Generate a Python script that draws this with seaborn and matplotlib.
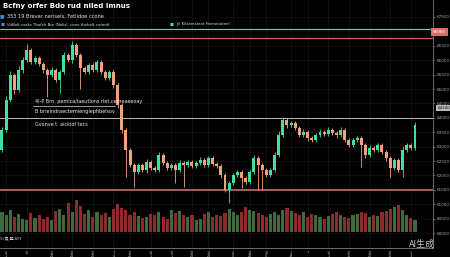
import numpy as np
import pandas as pd
import matplotlib
matplotlib.use("Agg")
import matplotlib.pyplot as plt
from matplotlib.lines import Line2D
import seaborn as sns

# ---------------- data ----------------
first_open = 62880
closes = [63580, 64620, 65490, 64960, 65660, 66010, 66350, 65940, 66080, 65870,
          65660, 65490, 65660, 65310, 65590, 66180, 66010, 66530, 66180, 65730,
          65590, 65830, 65660, 65940, 65590, 65380, 65590, 65140, 64440, 63580,
          62880, 62360, 62120, 62360, 62190, 62470, 62260, 62190, 62710, 62430,
          62260, 62360, 62190, 62430, 62360, 62470, 62330, 62430, 62530, 62360,
          62600, 62400, 62330, 62010, 61490, 61740, 62010, 62120, 61910, 61770,
          62120, 62600, 62360, 62190, 62010, 62190, 62710, 63400, 63920, 63750,
          63820, 63650, 63400, 63510, 63300, 63230, 63400, 63510, 63440, 63580,
          63470, 63400, 63580, 63230, 63060, 63230, 63300, 63060, 62710, 62950,
          62880, 63060, 62810, 62600, 62260, 62530, 62190, 62880, 63060, 62950,
          63750]
upper_wick = [100, 140, 120, 80, 150, 100, 200, 90, 60, 80,
              70, 60, 90, 60, 80, 120, 70, 150, 60, 80,
              60, 90, 70, 80, 60, 70, 80, 60, 70, 60,
              60, 70, 60, 80, 60, 90, 60, 70, 120, 60,
              60, 80, 60, 90, 70, 60, 70, 80, 100, 60,
              90, 60, 70, 60, 60, 80, 90, 70, 60, 70,
              80, 100, 60, 70, 60, 80, 120, 150, 100, 70,
              80, 60, 70, 90, 60, 60, 80, 90, 60, 100,
              70, 60, 90, 60, 60, 80, 70, 60, 60, 90,
              60, 80, 60, 60, 60, 90, 60, 140, 80, 70,
              100]
lower_wick = [60, 80, 60, 150, 70, 90, 60, 80, 60, 70,
              100, 760, 60, 80, 450, 70, 60, 90, 60, 730,
              60, 70, 80, 60, 70, 80, 60, 90, 100, 120,
              940, 80, 520, 70, 60, 90, 70, 60, 80, 70,
              60, 80, 450, 60, 760, 70, 80, 60, 70, 60,
              80, 60, 70, 90, 80, 450, 70, 60, 350, 60,
              70, 60, 870, 700, 80, 60, 70, 80, 60, 90,
              60, 80, 70, 60, 90, 60, 70, 80, 60, 70,
              60, 90, 70, 80, 60, 70, 80, 760, 90, 60,
              70, 80, 60, 90, 310, 60, 80, 250, 60, 70,
              80]
volumes = [620, 540, 700, 480, 560, 420, 380, 600, 450, 520,
           400, 470, 380, 650, 720, 540, 900, 610, 1000, 820,
           560, 700, 480, 640, 530, 590, 460, 720, 880, 760,
           690, 540, 610, 500, 430, 470, 560, 520, 610, 480,
           420, 680, 590, 650, 520, 460, 540, 380, 420, 560,
           610, 470, 530, 490, 580, 730, 640, 520, 610, 780,
           700, 650, 590, 520, 480, 560, 620, 540, 700, 760,
           660, 590, 520, 610, 480, 560, 530, 470, 420, 500,
           560, 610, 520, 460, 430, 520, 560, 620, 580, 480,
           540, 500, 610, 660, 720, 780, 840, 700, 520, 430,
           380]
date_ticks = [1, 6, 12, 17, 22, 27, 31, 36, 41, 46, 50, 56, 60, 64, 70, 74, 79, 84, 89, 94, 99]
date_labels = ["4\n1", "16\n", "10\n24", "8\n21", "10\n22", "7\n4", "10\n25", "18\n1",
               "11\n1", "13\n28", "10\n28", "4\n0", "14\n23", "16\n0", "1\n19", "7\n",
               "10\n1", "12\n15", "10\n20", "14\n15", "1\n1"]
price_ticks = [60000, 60500, 61000, 61500, 62000, 62500, 63000, 63500,
               64000, 64500, 65000, 65500, 66000, 66500, 67000, 67500]
level_green = 67080
level_red_top = 66770
level_gray = 63990
level_red_low = 61490
last_price_red = 66980
last_price_gray = 64340

# ---------------- build frame ----------------
opens = [first_open] + closes[:-1]
df = pd.DataFrame({"idx": np.arange(len(closes)), "open": opens, "close": closes,
                   "vol": volumes})
df["up"] = df["close"] >= df["open"]
df["high"] = df[["open", "close"]].max(axis=1) + np.array(upper_wick)
df["low"] = df[["open", "close"]].min(axis=1) - np.array(lower_wick)
df["dir"] = np.where(df["up"], "up", "down")

W, H = 450, 257
sns.set_theme(style="dark")
plt.rcParams["font.family"] = ["DejaVu Sans", "Noto Sans CJK SC"]

fig = plt.figure(figsize=(W / 100, H / 100), dpi=100, facecolor="black")
ax = fig.add_axes([0, 1 - 248 / H, 433 / W, 248 / H])
ax.set_facecolor("black")

GREEN = "#3fe0a0"
RED = "#f4a07a"

# grid
for p in price_ticks:
    ax.axhline(p, color="#141414", lw=0.5, zorder=0)
for t in date_ticks:
    ax.axvline(t, color="#141414", lw=0.5, zorder=0)

# levels
ax.axhline(level_green, color="#8cc4a4", lw=0.8, zorder=1)
ax.axhline(level_red_top, color="#c56a62", lw=0.9, zorder=1)
ax.axhline(level_gray, color="#bdbdbd", lw=0.7, zorder=1)
ax.axhline(level_red_low, color="#d07a62", lw=1.1, zorder=1)

# candles
colors = np.where(df["up"], GREEN, RED)
ax.vlines(df["idx"], df["low"], df["high"], colors=colors, lw=0.6, zorder=3)
body_h = np.maximum((df["close"] - df["open"]).abs(), 25)
ax.bar(df["idx"], body_h, bottom=df[["open", "close"]].min(axis=1),
       width=0.72, color=colors, edgecolor="none", zorder=4)

ax.set_ylim(59480, 68090)

# volume on twin axis
ax2 = ax.twinx()
sns.barplot(data=df, x="idx", y="vol", hue="dir", native_scale=True,
            palette={"up": "#3f6b3c", "down": "#8e2a2a"}, width=0.75,
            legend=False, ax=ax2, saturation=1, edgecolor="none", linewidth=0,
            zorder=2)
ax2.set_ylim(-500, 7250)
ax2.set_yticks([])
ax2.set_ylabel("")
ax2.set_xlabel("")
ax2.grid(False)
for s in ax2.spines.values():
    s.set_visible(False)

ax.set_xlim(-0.48, 104.36)
ax.set_xticks(date_ticks)
ax.set_xticklabels(date_labels, linespacing=0.85)
ax.tick_params(axis="x", colors="#bbbbbb", labelsize=2.4, length=1.2, width=0.4, pad=0.6,
               labelcolor="#bbbbbb")
ax.yaxis.tick_right()
ax.set_yticks(price_ticks)
ax.set_yticklabels(["" if p == 67000 else f"{p}" for p in price_ticks])
ax.tick_params(axis="y", colors="#aaaaaa", labelsize=3, length=1.5, width=0.4, pad=1,
               labelcolor="#aaaaaa")
ax.set_xlabel("")
ax.set_ylabel("")
for side in ["top", "left"]:
    ax.spines[side].set_visible(False)
ax.spines["bottom"].set_color("#999999")
ax.spines["bottom"].set_linewidth(0.5)
ax.spines["right"].set_color("#777777")
ax.spines["right"].set_linewidth(0.6)
ax.grid(False)

# price labels on right axis
ax.text(1.0, last_price_red, f"{last_price_red}", transform=ax.get_yaxis_transform(),
        ha="left", va="center", fontsize=3, color="white", zorder=10, clip_on=False,
        bbox=dict(boxstyle="square,pad=0.4", fc="#e06a6a", ec="none"))
ax.text(1.01, last_price_gray, f"{last_price_gray}", transform=ax.get_yaxis_transform(),
        ha="left", va="center", fontsize=3, color="#111111", zorder=10, clip_on=False,
        bbox=dict(boxstyle="square,pad=0.3", fc="#bbbbbb", ec="none"))


def ftext(x, y, s, **kw):
    fig.text(x / W, 1 - y / H, s, ha="left", va="center", **kw)


ftext(3, 6, "Bcfny orfer Bdo rud niled lmnus", fontsize=5, fontweight="bold", color="white")
ftext(0, 16, "■", fontsize=3.5, color="#3a8ee0")
ftext(7, 16, "353 19 Brever nerisels, Fetlidoe ccone", fontsize=3.6, color="#e6e6e6")
ftext(1, 24.5, "■", fontsize=3, color="#3a8ee0")
ftext(7, 24.5, "VitBalt.cseks Thofch Bre (Nelisl. cone thebelt cerontl", fontsize=2.8, color="#dddddd")
ftext(170, 24.5, "■", fontsize=3, color="#44dd99")
ftext(176, 24.5, "Jcl Kilsamstent Hemeoatenl", fontsize=2.8, color="#dddddd")

ftext(35, 102, "4I-P Brn. pemica/laeutions rlet.cemeaeeoay", fontsize=3.5, color="#eeeeee")
ftext(35, 111, "B brieindraectemienglephbelsov", fontsize=3.5, color="#eeeeee")
ftext(35, 124, "Gvonve t. aickiof tecs", fontsize=3.5, color="#eeeeee")
fig.add_artist(Line2D([33 / W, 115 / W], [1 - 106 / H, 1 - 106 / H],
                      transform=fig.transFigure, color="#dddddd", lw=0.5))

ftext(0, 239, "SI 魚 盟 AYT", fontsize=3, color="#cccccc",
      family=["Noto Sans CJK SC", "DejaVu Sans"])
ftext(409, 244, "AI生成", fontsize=6.5, color="#c4c4c4",
      family=["Noto Sans CJK SC", "DejaVu Sans"])

fig.savefig("out.png", dpi=100, facecolor="black")
